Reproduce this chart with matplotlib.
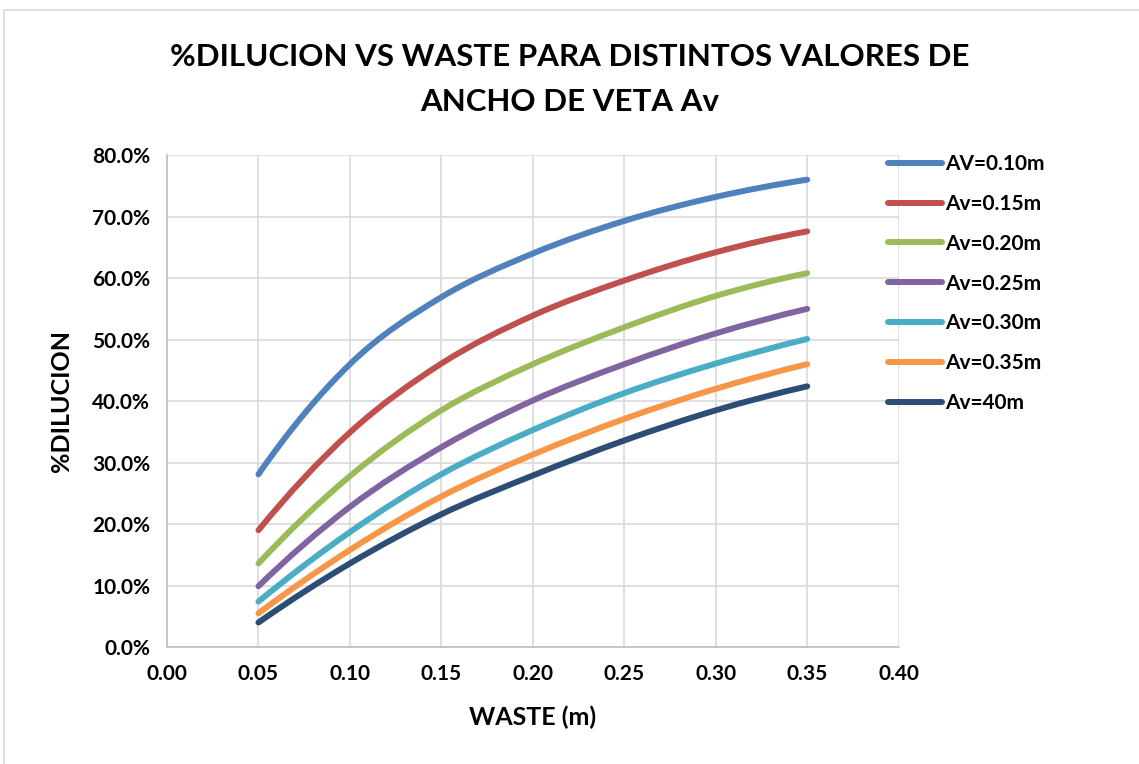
import matplotlib.pyplot as plt
import numpy as np
from matplotlib.lines import Line2D
from matplotlib.patches import PathPatch, Rectangle
from matplotlib.path import Path
from matplotlib.ticker import FuncFormatter, MultipleLocator

plt.rcParams['font.family'] = ['Lato', 'DejaVu Sans']
plt.rcParams['font.weight'] = 'bold'

# waste (m)
waste = [0.05, 0.10, 0.15, 0.20, 0.25, 0.30, 0.35]

# % dilution per vein width
av_010 = [28.1, 46.0, 56.9, 64.0, 69.3, 73.2, 76.0]
av_015 = [19.0, 34.9, 46.1, 53.9, 59.6, 64.2, 67.6]
av_020 = [13.6, 27.8, 38.5, 46.0, 52.0, 57.1, 60.8]
av_025 = [9.9, 22.8, 32.5, 40.1, 46.0, 51.0, 55.0]
av_030 = [7.4, 18.7, 28.1, 35.3, 41.3, 46.1, 50.1]
av_035 = [5.5, 15.8, 24.5, 31.3, 37.1, 42.0, 46.0]
av_040 = [4.0, 13.6, 21.6, 27.9, 33.6, 38.5, 42.4]

labels = ['AV=0.10m', 'Av=0.15m', 'Av=0.20m', 'Av=0.25m', 'Av=0.30m', 'Av=0.35m', 'Av=40m']
series = [av_010, av_015, av_020, av_025, av_030, av_035, av_040]
colors = ['#4F81BD', '#C0504D', '#9BBB59', '#8064A2', '#4BACC6', '#F79646', '#2C4D75']


def smooth_path(xs, ys):
    # smoothed line: catmull-rom style cubic bezier through every point,
    # end tangents taken from a quadratic through the first / last three points
    p = np.column_stack([xs, ys])
    first = 3 * p[0] - 3 * p[1] + p[2]
    last = 3 * p[-1] - 3 * p[-2] + p[-3]
    q = np.vstack([first, p, last])
    verts = [p[0]]
    codes = [Path.MOVETO]
    for i in range(1, len(q) - 2):
        c1 = q[i] + (q[i + 1] - q[i - 1]) / 6
        c2 = q[i + 1] - (q[i + 2] - q[i]) / 6
        verts += [c1, c2, q[i + 1]]
        codes += [Path.CURVE4] * 3
    return Path(verts, codes)


fig = plt.figure(figsize=(11.39, 7.64), dpi=100)
ax = fig.add_axes([0.1466, 0.153, 0.6424, 0.644])

# chart frame
fig.patches.append(Rectangle((4 / 1139, -0.1), 1.2, 1 - 10 / 764 + 0.1, transform=fig.transFigure,
                             fill=False, edgecolor='#d9d9d9', lw=1.2))

handles = []
for vals, lab, c in zip(series, labels, colors):
    path = smooth_path(waste, [v / 100 for v in vals])
    ax.add_patch(PathPatch(path, facecolor='none', edgecolor=c, lw=4.3,
                           capstyle='round', joinstyle='round'))
    handles.append(Line2D([], [], color=c, lw=4.3, solid_capstyle='round', label=lab))

ax.set_xlim(0, 0.40)
ax.set_ylim(0, 0.80)
ax.xaxis.set_major_locator(MultipleLocator(0.05))
ax.yaxis.set_major_locator(MultipleLocator(0.10))
ax.xaxis.set_major_formatter(FuncFormatter(lambda v, p: f'{v:.2f}'))
ax.yaxis.set_major_formatter(FuncFormatter(lambda v, p: f'{v * 100:.1f}%'))
ax.grid(True, color='#d9d9d9', lw=1.2)
ax.set_axisbelow(True)
for s in ['top', 'right']:
    ax.spines[s].set_visible(False)
for s in ['left', 'bottom']:
    ax.spines[s].set_color('#bfbfbf')
    ax.spines[s].set_linewidth(1.2)
ax.tick_params(length=0, labelsize=15, pad=12)
for t in ax.get_xticklabels() + ax.get_yticklabels():
    t.set_fontweight('bold')

ax.set_xlabel('WASTE (m)', fontsize=18, fontweight='bold', labelpad=16)
ax.set_ylabel('%DILUCION', fontsize=18, fontweight='bold', labelpad=14)

fig.text(0.5, 0.896, '%DILUCION VS WASTE PARA DISTINTOS VALORES DE\nANCHO DE VETA Av',
         ha='center', va='center', fontsize=22.5, fontweight='bold', linespacing=1.7)

leg = ax.legend(handles=handles, loc='upper left', bbox_to_anchor=(0.96, 1.04), frameon=False,
                fontsize=15, handlelength=2.6, handletextpad=0.15, labelspacing=0.95)
for t in leg.get_texts():
    t.set_fontweight('bold')

fig.savefig('out.png', dpi=100)
